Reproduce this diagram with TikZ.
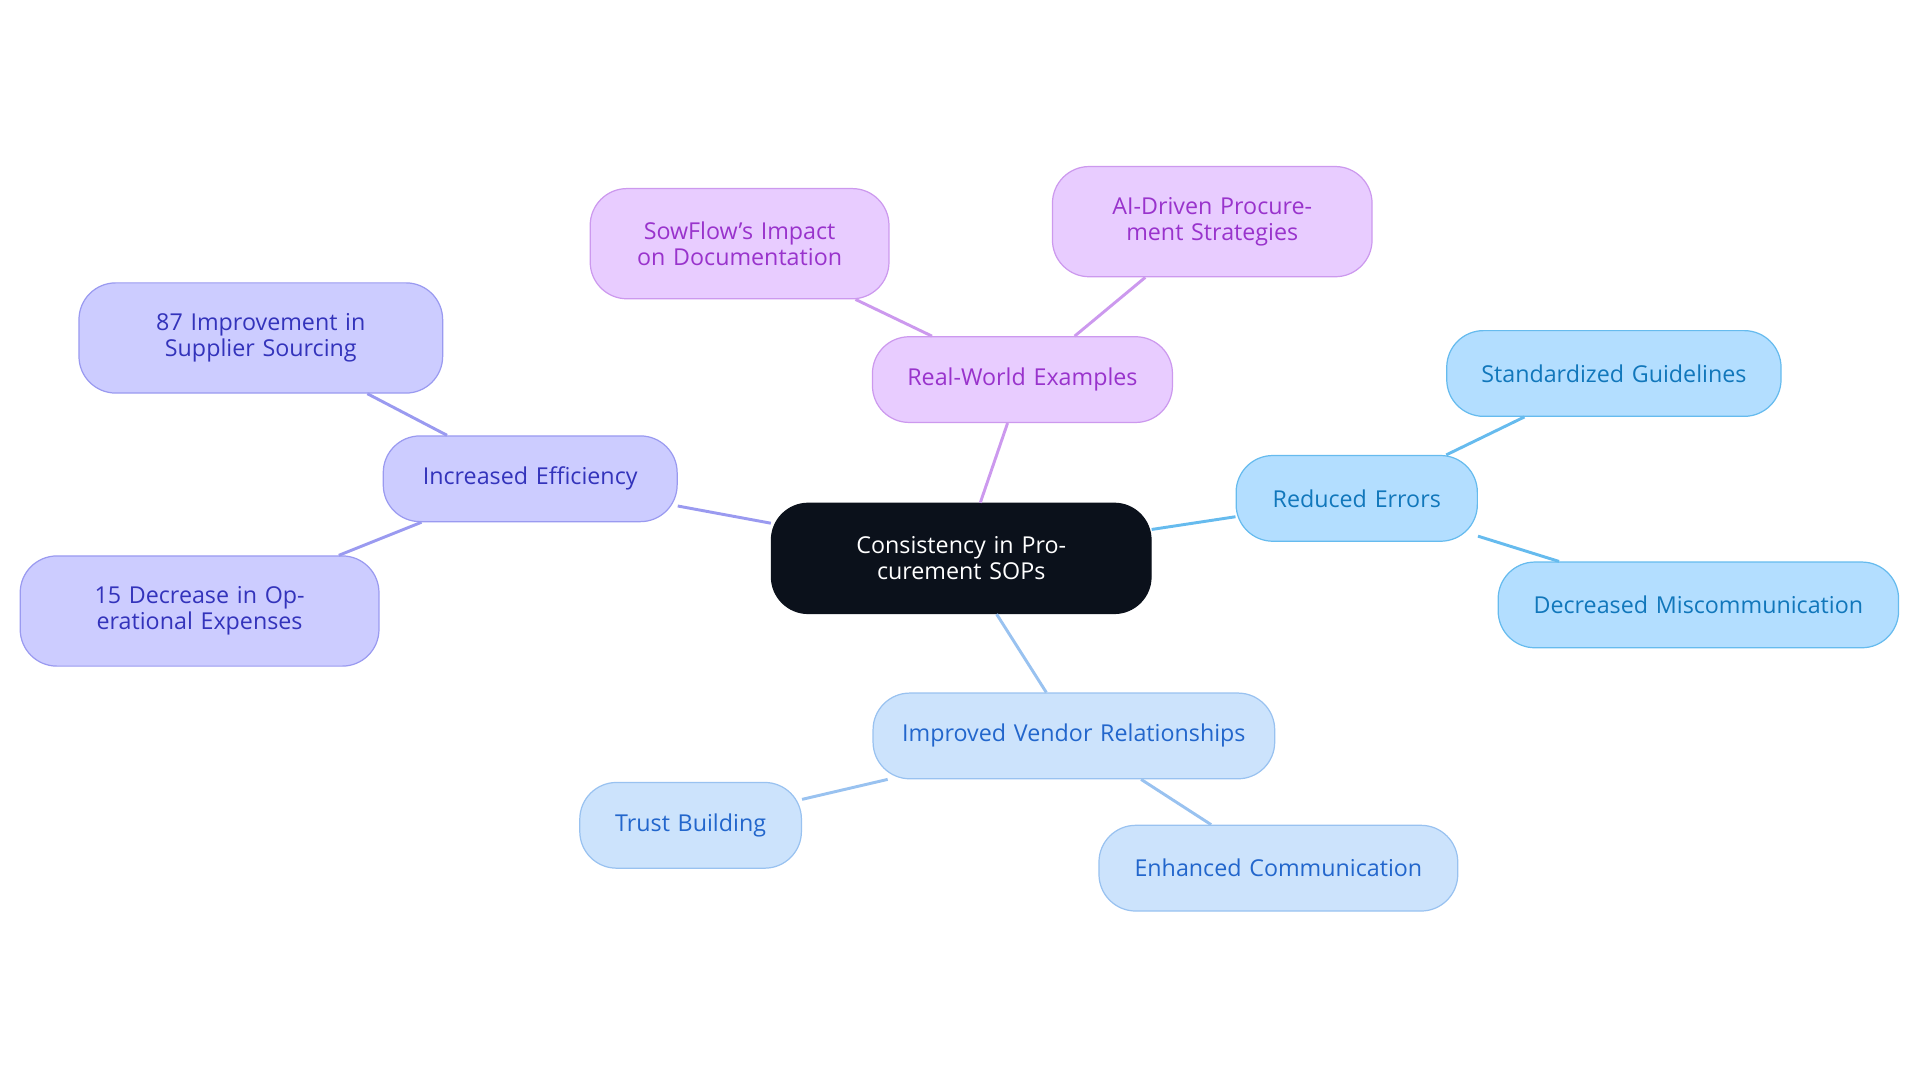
\documentclass[tikz,border=0pt]{standalone}
\usepackage{fontspec}
\setmainfont{Open Sans}
\begin{document}
\begin{tikzpicture}[x=0.5pt,y=-0.5pt]
\definecolor{cdark}{HTML}{0B111B}
\definecolor{pf}{HTML}{CCCCFF}\definecolor{pd}{HTML}{9A9AF0}\definecolor{pt}{HTML}{3333BB}
\definecolor{mf}{HTML}{E8CCFF}\definecolor{md}{HTML}{CC99EE}\definecolor{mt}{HTML}{9933CC}
\definecolor{bf}{HTML}{B3DEFF}\definecolor{bd}{HTML}{66BBEE}\definecolor{bt}{HTML}{1177BB}
\definecolor{lf}{HTML}{CCE3FC}\definecolor{ld}{HTML}{99C2F0}\definecolor{lt}{HTML}{2266CC}
\tikzset{box/.style={rounded corners=15pt,draw,line width=0.5pt,align=center,font=\fontsize{9.5}{10.5}\selectfont,inner sep=0pt},
 sz/.style n args={2}{minimum width=#1*0.5pt,minimum height=#2*0.5pt,text width=#1*0.5pt-16pt},
 pb/.style={box,fill=pf,draw=pd,text=pt}, mb/.style={box,fill=mf,draw=md,text=mt},
 bb/.style={box,fill=bf,draw=bd,text=bt}, lb/.style={box,fill=lf,draw=ld,text=lt},
 ed/.style={line width=1.2pt}}
\useasboundingbox (0,0) rectangle (1568,884);
\node[box,fill=cdark,draw=cdark,text=white,sz={310}{90}] (c) at (785,456) {Consistency in Procurement SOPs};
\node[pb,sz={240}{70}] (ie) at (433,391) {Increased Efficiency};
\node[pb,sz={297}{90}] (i87) at (213,276) {87 Improvement in Supplier Sourcing};
\node[pb,sz={293}{90}] (i15) at (163,499) {15 Decrease in Operational Expenses};
\node[mb,sz={245}{70}] (rw) at (835,310) {Real-World Examples};
\node[mb,sz={244}{90}] (sf) at (604,199) {SowFlow's Impact on Documentation};
\node[mb,sz={261}{90}] (ai) at (990,181) {AI-Driven Procurement Strategies};
\node[bb,sz={197}{70}] (re) at (1108,407) {Reduced Errors};
\node[bb,sz={273}{70}] (sg) at (1318,305) {Standardized Guidelines};
\node[bb,sz={327}{70}] (dm) at (1387,494) {Decreased Miscommunication};
\node[lb,sz={328}{70}] (iv) at (877,601) {Improved Vendor Relationships};
\node[lb,sz={181}{70}] (tb) at (564,674) {Trust Building};
\node[lb,sz={293}{70}] (ec) at (1044,709) {Enhanced Communication};
\begin{scope}[on background layer/.try]
\end{scope}
\draw[ed,pd] (c) -- (ie); \draw[ed,pd] (ie) -- (i87); \draw[ed,pd] (ie) -- (i15);
\draw[ed,md] (c) -- (rw); \draw[ed,md] (rw) -- (sf); \draw[ed,md] (rw) -- (ai);
\draw[ed,bd] (c) -- (re); \draw[ed,bd] (re) -- (sg); \draw[ed,bd] (re) -- (dm);
\draw[ed,ld] (c) -- (iv); \draw[ed,ld] (iv) -- (tb); \draw[ed,ld] (iv) -- (ec);
\end{tikzpicture}
\end{document}
